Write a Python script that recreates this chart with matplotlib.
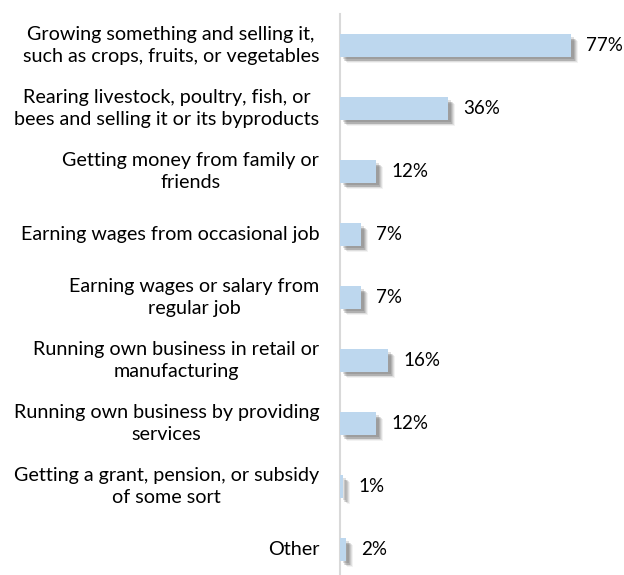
import matplotlib
matplotlib.use("Agg")
import matplotlib.pyplot as plt
import matplotlib.patheffects as pe

plt.rcParams['font.family'] = ['Lato', 'DejaVu Sans']

categories = [
    "Growing something and selling it,\nsuch as crops, fruits, or vegetables",
    "Rearing livestock, poultry, fish, or\nbees and selling it or its byproducts",
    "Getting money from family or\nfriends",
    "Earning wages from occasional job",
    "Earning wages or salary from\nregular job",
    "Running own business in retail or\nmanufacturing",
    "Running own business by providing\nservices",
    "Getting a grant, pension, or subsidy\nof some sort",
    "Other",
]
values = [77, 36, 12, 7, 7, 16, 12, 1, 2]
value_labels = ["%d%%" % v for v in values]

W, H = 624, 575
fig = plt.figure(figsize=(W / 100, H / 100), dpi=100)
# axes: left edge at x=340, top at y=14
ax = fig.add_axes([340 / W, 0, 1 - 340 / W, 1 - 14 / H])

ypos = list(range(len(values)))
shadow = [pe.SimplePatchShadow(offset=(d, -d), shadow_rgbFace='#303030', alpha=a)
          for d, a in [(5, 0.06), (4, 0.1), (3.5, 0.12), (3, 0.15), (2, 0.15)]]
bars = ax.barh(ypos, values, height=0.35, color='#bdd7ee', zorder=3)
for b in bars:
    b.set_path_effects(shadow + [pe.Normal()])

for y, v, lab in zip(ypos, values, value_labels):
    ax.annotate(lab, (v, y), xytext=(11, 0), textcoords='offset points',
                va='center', ha='left', fontsize=13.5, color='#000000')

ax.set_xlim(0, (W - 340) / 3.0)
ax.set_ylim(8.405, -0.5)
ax.set_xticks([])
ax.set_yticks([])
for s in ['top', 'right', 'bottom']:
    ax.spines[s].set_visible(False)
ax.spines['left'].set_color('#d9d9d9')
ax.spines['left'].set_linewidth(1.5)

for y, c in zip(ypos, categories):
    ax.annotate(c, (0, y), xytext=(-15, 0), textcoords='offset points',
                va='center', ha='right', multialignment='center',
                fontsize=14.2, color='#000000', linespacing=1.4,
                annotation_clip=False)

fig.savefig("out.png", dpi=100)
